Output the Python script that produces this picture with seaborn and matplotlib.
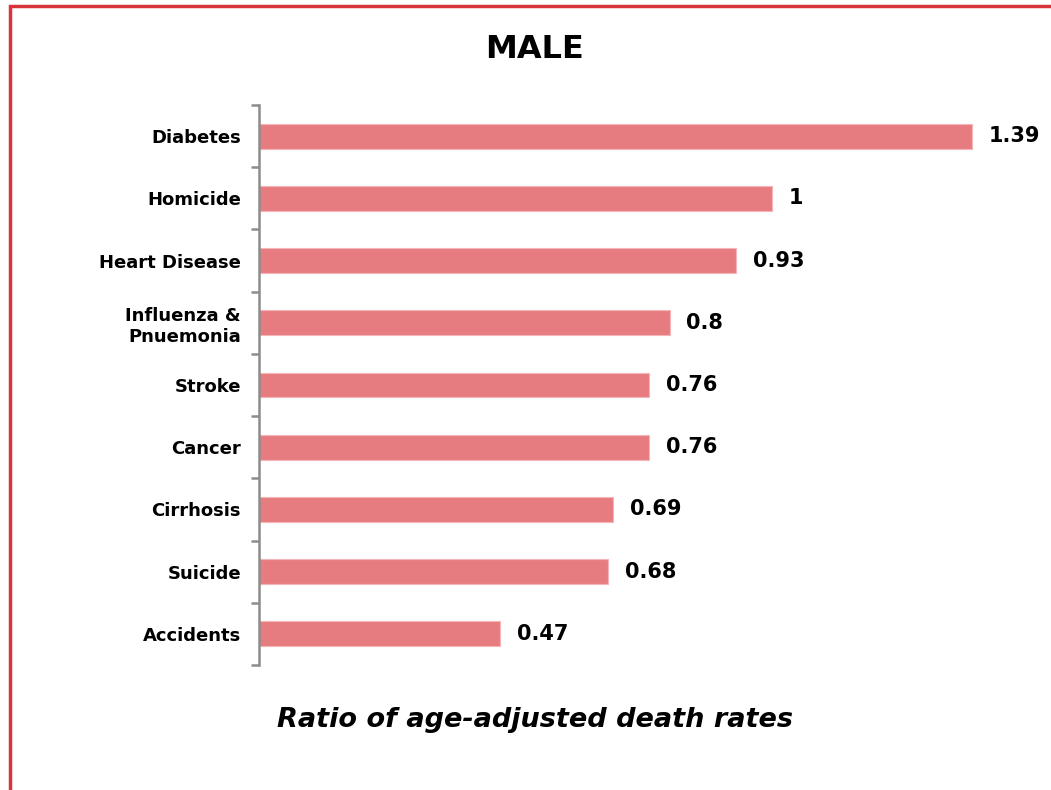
import matplotlib
matplotlib.use('Agg')
import matplotlib.pyplot as plt
import seaborn as sns
import pandas as pd
import numpy as np
from matplotlib.patches import Rectangle

# Values
causes = ['Diabetes', 'Homicide', 'Heart Disease', 'Influenza &\nPnuemonia', 'Stroke',
          'Cancer', 'Cirrhosis', 'Suicide', 'Accidents']
ratios = [1.39, 1, 0.93, 0.8, 0.76, 0.76, 0.69, 0.68, 0.47]
value_labels = ['1.39', '1', '0.93', '0.8', '0.76', '0.76', '0.69', '0.68', '0.47']

sns.set_style('white')
plt.rcParams['font.family'] = ['DejaVu Sans']
plt.rcParams['text.color'] = 'black'
plt.rcParams['ytick.labelcolor'] = 'black'

df = pd.DataFrame({'cause': causes, 'ratio': ratios})

fig = plt.figure(figsize=(10.51, 7.90), dpi=100)
ax = fig.add_axes([259 / 1051, 1 - 665 / 790, 780 / 1051, 560 / 790])

sns.barplot(data=df, x='ratio', y='cause', order=causes, color='#E77C80',
            width=0.4, edgecolor='#F4B5B8', linewidth=0.8, saturation=1, ax=ax)

ax.set_xlim(0, 1.52)
ax.set_ylim(len(causes) - 0.5, -0.5)

# labels at category centers, tick marks at boundaries
ax.set_yticks(np.arange(-0.5, len(causes), 1))
ax.set_yticklabels([])
ax.set_yticks(np.arange(len(causes)), minor=True)
ax.set_yticklabels(causes, minor=True, fontsize=13, fontweight='bold', ha='right',
                   color='black')
ax.tick_params(axis='y', which='major', left=True, length=6, width=1.8,
               color='#8c8c8c', direction='out')
ax.tick_params(axis='y', which='minor', left=False, length=0, pad=13)
ax.set_xticks([])
ax.set_xlabel('')
ax.set_ylabel('')

for s in ['top', 'right', 'bottom']:
    ax.spines[s].set_visible(False)
ax.spines['left'].set_color('#8c8c8c')
ax.spines['left'].set_linewidth(1.8)

ax.bar_label(ax.containers[0], labels=value_labels, padding=12,
             fontsize=15, fontweight='bold', color='black')

fig.text(534 / 1051, 1 - 50 / 790, 'MALE', ha='center', va='center',
         fontsize=23, fontweight='bold', color='black')
fig.text(535 / 1051, 1 - 720 / 790, 'Ratio of age-adjusted death rates', ha='center',
         va='center', fontsize=19.5, fontweight='bold', fontstyle='italic', color='black')

# red frame, cut off at right and bottom
fig.patches.append(Rectangle((10 / 1051, -0.1), 1.2, 1 - 6 / 790 + 0.1,
                             transform=fig.transFigure, fill=False,
                             edgecolor='#D9333B', linewidth=2.5))

fig.savefig('out.png', dpi=100)
